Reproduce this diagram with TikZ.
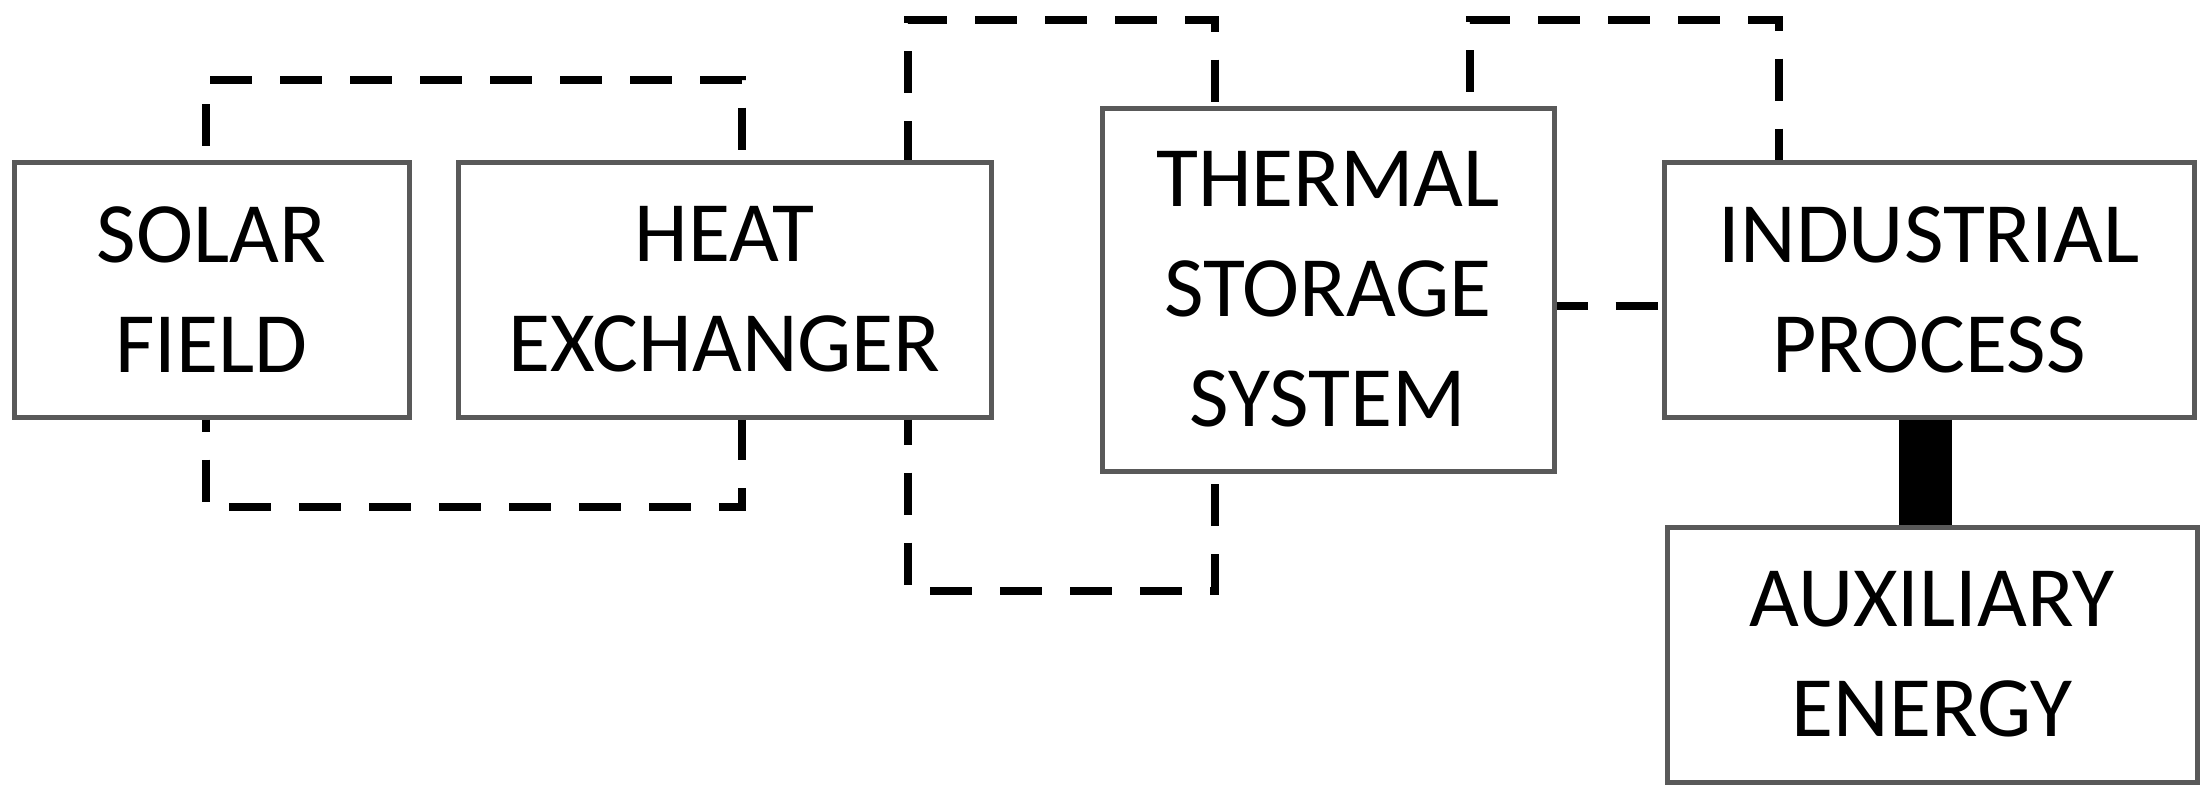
\documentclass[tikz,border=0pt]{standalone}
\usepackage{fontspec}
\setmainfont{Carlito}
\usetikzlibrary{calc}
\definecolor{boxgray}{HTML}{595959}
\tikzset{
  box/.style={draw=boxgray, line width=5pt, fill=white, inner sep=0pt, align=center,
    font=\fontsize{86}{110}\selectfont},
  flow/.style={draw=black, line width=8pt, dash pattern=on 42pt off 28pt},
  feed/.style={draw=black, line width=53pt}
}
\begin{document}
\begin{tikzpicture}[x=1pt,y=-1pt]
\useasboundingbox[fill=white] (0,0) rectangle (2212,798);
\node[box, minimum width=395pt, minimum height=255pt] (sf) at (211.5,289.5) {SOLAR\\FIELD};
\node[box, minimum width=533pt, minimum height=255pt] (hx) at (724.5,289.5) {HEAT\\EXCHANGER};
\node[box, minimum width=452pt, minimum height=363pt] (ts) at (1328,289.5) {THERMAL\\STORAGE\\SYSTEM};
\node[box, minimum width=530pt, minimum height=255pt] (ip) at (1929,289.5) {INDUSTRIAL\\PROCESS};
\node[box, minimum width=530pt, minimum height=255pt] (aux) at (1932,654.5) {AUXILIARY\\ENERGY};

\draw[flow, dash phase=56pt] ($(sf.north)+(-5.5,0)$) -- ++(0,-80) -| ($(hx.north)+(17.5,0)$);
\draw[flow, dash phase=30pt] ($(sf.south)+(-5.5,0)$) -- ++(0,87) -| ($(hx.south)+(17.5,0)$);
\draw[flow, dash phase=3pt] ($(hx.north)+(183.5,0)$) -- ++(0,-140) -| ($(ts.north)+(-113,0)$);
\draw[flow, dash phase=17pt] ($(hx.south)+(183.5,0)$) -- ++(0,171) -| ($(ts.south)+(-113,0)$);
\draw[flow, dash phase=56pt] ($(ts.north)+(142,0)$) -- ++(0,-86) -| ($(ip.north)+(-150,0)$);
\draw[flow, dash phase=11pt] ($(ts.east)+(0,16.5)$) -- ($(ip.west)+(0,16.5)$);
\draw[feed] ($(ip.south)+(-3.5,0)$) -- ($(ip.south |- aux.north)+(-3.5,0)$);
\end{tikzpicture}
\end{document}
